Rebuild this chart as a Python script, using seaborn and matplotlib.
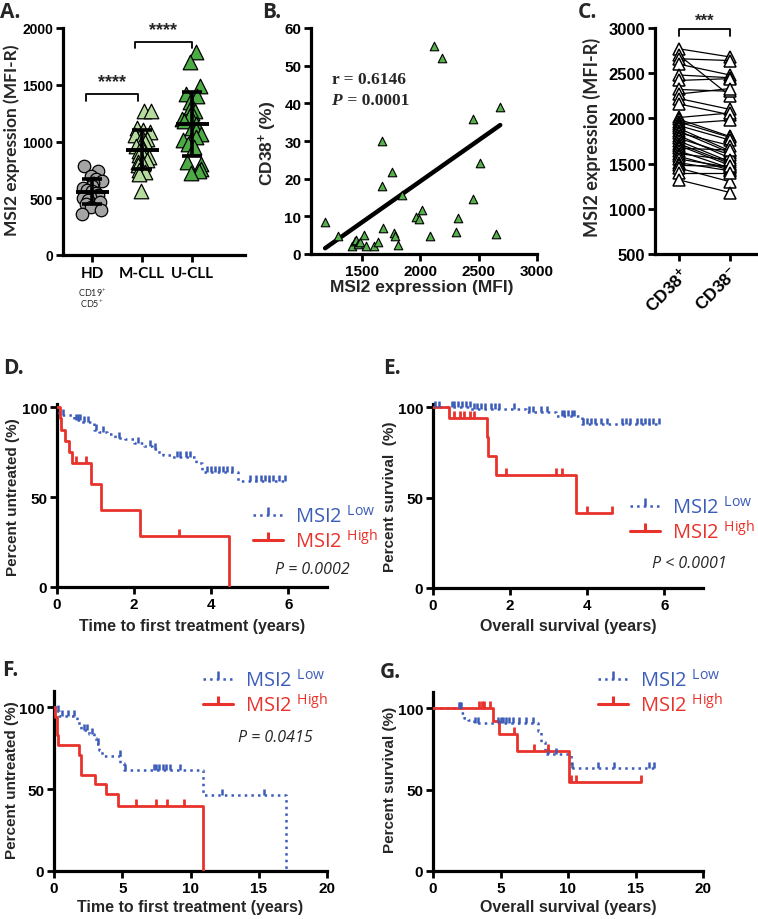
import numpy as np
import pandas as pd
import matplotlib
matplotlib.use("Agg")
import matplotlib.pyplot as plt
import seaborn as sns
from matplotlib.lines import Line2D

# ---------------- data ----------------
groups_A = ["HD", "M-CLL", "U-CLL"]
hd_vals = [780, 740, 700, 670, 650, 630, 610, 590, 575, 560, 545, 530, 515, 500, 485, 470, 450, 420, 400, 360]
mcll_vals = [1270, 1265, 1120, 1100, 1080, 1060, 1040, 1020, 1000, 980, 960, 940, 920, 900, 880, 860,
             840, 820, 800, 790, 770, 750, 730, 710, 560]
ucll_vals = [1790, 1700, 1490, 1420, 1400, 1350, 1300, 1270, 1250, 1230, 1200, 1180, 1150, 1120, 1100,
             1070, 1040, 1010, 980, 950, 820, 800, 760, 740, 720]

b_msi2 = [1185, 1295, 1415, 1440, 1450, 1465, 1485, 1515, 1535, 1605, 1635, 1668, 1670, 1678, 1760, 1778,
          1780, 1812, 1840, 1965, 1985, 2015, 2082, 2120, 2188, 2307, 2322, 2448, 2455, 2515, 2645, 2685]
b_cd38 = [8.5, 4.7, 2.0, 3.4, 3.8, 2.6, 3.2, 5.1, 2.0, 2.0, 3.3, 30.1, 18.1, 6.8, 21.8, 5.5,
          4.8, 2.4, 15.7, 9.9, 9.4, 11.6, 4.9, 55.2, 52.0, 5.8, 9.6, 14.5, 35.9, 24.1, 5.4, 39.0]
# regression line as printed in the figure
b_fit_slope = 0.0218
b_fit_intercept = -24.3

c_conditions = ["CD38+", "CD38-"]
c_pos = [2770, 2700, 2660, 2600, 2480, 2420, 2320, 2270, 2220, 2160, 2010, 1990, 1960, 1940, 1920, 1890,
         1860, 1840, 1810, 1780, 1750, 1720, 1700, 1670, 1640, 1610, 1580, 1550, 1510, 1480, 1450, 1400, 1320]
c_neg = [2680, 2250, 2640, 2480, 2450, 2440, 2300, 2330, 2100, 2040, 2060, 1800, 1790, 1980, 1760, 1640,
         1620, 1700, 1560, 1600, 1520, 1500, 1480, 1650, 1450, 1540, 1430, 1460, 1420, 1470, 1300, 1400, 1180]

# Kaplan-Meier curves: event times, survival after event (%), last follow-up, censor times
D_low_t = [0, 0.05, 0.45, 0.62, 0.95, 1.1, 1.3, 1.5, 1.75, 2.0, 2.25, 2.45, 2.6, 2.75, 2.95, 3.6, 3.75, 4.7]
D_low_s = [100, 95.5, 93, 91.5, 87.5, 86, 85, 83, 82, 80, 78.5, 76.5, 75, 73.5, 72, 69, 64, 59]
D_low_end = 5.95
D_low_c = [0.15, 0.5, 0.55, 0.6, 0.7, 0.8, 1.0, 1.2, 1.6, 2.1, 2.4, 2.55, 3.1, 3.2, 3.35, 3.45, 3.9, 4.0,
           4.1, 4.2, 4.3, 4.4, 4.55, 5.0, 5.15, 5.3, 5.4, 5.5, 5.6, 5.75, 5.9]
D_high_t = [0, 0.08, 0.1, 0.2, 0.3, 0.38, 0.88, 1.15, 2.15, 4.47]
D_high_s = [100, 93.8, 87.5, 81.3, 75, 68.8, 57.3, 43, 28.6, 0]
D_high_end = 4.47
D_high_c = [0.5, 0.75, 3.15]

E_low_t = [0, 0.97, 2.4, 3.2, 3.85]
E_low_s = [100, 98.8, 97.2, 95, 90.5]
E_low_end = 5.9
E_low_c = [0.05, 0.15, 0.5, 0.55, 0.65, 0.75, 0.85, 0.95, 1.05, 1.15, 1.25, 1.35, 1.5, 1.6, 1.7, 2.1, 2.5,
           2.6, 2.8, 2.95, 3.35, 3.4, 3.5, 3.6, 3.65, 3.9, 4.0, 4.1, 4.2, 4.35, 4.5, 4.9, 5.0, 5.1, 5.3,
           5.4, 5.5, 5.6, 5.7, 5.85]
E_high_t = [0, 0.42, 1.4, 1.43, 1.63, 3.7]
E_high_s = [100, 93.8, 83.5, 72.9, 62.5, 41.7]
E_high_end = 4.65
E_high_c = [0.55, 0.7, 0.8, 0.95, 1.05, 1.9, 3.2, 3.35, 4.0, 4.65]

F_low_t = [0, 0.15, 0.4, 1.7, 1.85, 2.0, 2.6, 2.9, 3.1, 3.3, 3.5, 4.85, 5.1, 10.9, 17.0]
F_low_s = [100, 97.5, 95, 92, 89, 86, 84, 81, 77.5, 74, 70, 66, 62, 46.5, 0]
F_low_end = 17.0
F_low_c = [0.3, 0.6, 1.0, 1.5, 2.2, 2.4, 2.8, 3.2, 4.8, 5.2, 7.3, 7.5, 7.7, 8.0, 8.2, 8.5, 9.2, 12.3, 15.4]
F_high_t = [0, 0.08, 0.2, 0.3, 1.8, 1.95, 3.0, 3.8, 4.7, 10.9]
F_high_s = [100, 94, 83, 76.7, 70.8, 58.9, 53, 47.1, 39.8, 0]
F_high_end = 10.9
F_high_c = [6.0, 7.5, 8.3, 9.5]

G_low_t = [0, 2.1, 2.3, 2.6, 3.0, 7.8, 8.0, 8.3, 10.2]
G_low_s = [100, 97, 94, 92.5, 91, 86, 79, 72, 63]
G_low_end = 16.5
G_low_c = [1.95, 2.0, 2.05, 3.1, 3.3, 4.8, 5.0, 5.2, 5.4, 5.6, 5.9, 6.4, 6.9, 7.4, 8.5, 9.1, 10.3, 12.2,
           13.4, 16.0, 16.4]
G_high_t = [0, 4.45, 4.9, 6.2, 10.1]
G_high_s = [100, 92.3, 84, 73.5, 55]
G_high_end = 15.4
G_high_c = [3.4, 3.6, 3.8, 4.2, 6.0, 7.5, 8.5, 10.2, 10.6, 15.4]

# ---------------- style ----------------
sns.set_theme(style="ticks")
plt.rcParams["font.family"] = ["Liberation Sans", "DejaVu Sans"]
plt.rcParams["mathtext.fontset"] = "custom"
plt.rcParams["mathtext.rm"] = "Open Sans"
plt.rcParams["mathtext.it"] = "Open Sans:italic"
plt.rcParams["mathtext.bf"] = "Liberation Sans:bold"

BLUE = "#3b5cb8"
RED = "#e8322b"

W, H = 758, 920
fig = plt.figure(figsize=(W / 100, H / 100), dpi=100)
fig.patch.set_facecolor("white")


def add_ax(l, r, t, b):
    return fig.add_axes([l / W, 1 - b / H, (r - l) / W, (b - t) / H])


def ftext(x, y, s, **kw):
    kw.setdefault("ha", "center")
    kw.setdefault("va", "center")
    return fig.text(x / W, 1 - y / H, s, **kw)


def style(ax, fs=9, family="Liberation Sans"):
    sns.despine(ax=ax)
    ax.set_facecolor("white")
    ax.grid(False)
    for sp in ["left", "bottom"]:
        ax.spines[sp].set_linewidth(2.3)
        ax.spines[sp].set_color("black")
    ax.tick_params(width=2, length=5, labelsize=fs, colors="black", direction="out", pad=2)
    for lab in ax.get_xticklabels() + ax.get_yticklabels():
        lab.set_fontweight("bold")
        lab.set_family(family)
    ax.set_xlabel("")
    ax.set_ylabel("")


def panel_label(x, y, s):
    ftext(x, y, s, ha="left", va="center", fontsize=15, fontweight="bold", family="Open Sans")


# ---------------- Panel A ----------------
axA = add_ax(63, 245, 29, 256)
dfA = pd.DataFrame({
    "group": ["HD"] * len(hd_vals) + ["M-CLL"] * len(mcll_vals) + ["U-CLL"] * len(ucll_vals),
    "value": hd_vals + mcll_vals + ucll_vals,
})
np.random.seed(7)
specs = {"HD": ("o", "#a4a4a4", 9), "M-CLL": ("^", "#b5dc9d", 10.5), "U-CLL": ("^", "#4dab45", 10.5)}
for g in groups_A:
    mk, fc, sz = specs[g]
    sns.stripplot(data=dfA[dfA["group"] == g], x="group", y="value", order=groups_A, ax=axA,
                  marker=mk, color=fc, size=sz, linewidth=0.9, edgecolor="black", jitter=0.2, zorder=2)
stats = dfA.groupby("group")["value"].agg(["mean", "std"]).reindex(groups_A)
xs = np.arange(len(groups_A))
axA.errorbar(xs, stats["mean"], yerr=stats["std"], fmt="none", ecolor="black",
             elinewidth=2.6, capsize=7, capthick=2.6, zorder=5)
axA.hlines(stats["mean"], xs - 0.33, xs + 0.33, color="black", lw=2.8, zorder=5)
axA.set_xlim(-0.58, 3.06)
axA.set_ylim(0, 2000)
axA.set_yticks([0, 500, 1000, 1500, 2000])
axA.set_xticks(xs)
axA.set_xticklabels(groups_A)
style(axA, fs=10)
for lab in axA.get_xticklabels():
    lab.set_family("Lato")
    lab.set_fontsize(11)
axA.tick_params(axis="x", pad=3)


def bracket(ax, x0, x1, y, h, text, fs, ty):
    ax.plot([x0, x0, x1, x1], [y - h, y, y, y - h], color="black", lw=1.3, clip_on=False)
    ax.text((x0 + x1) / 2, ty, text, ha="center", va="center", fontsize=fs,
            fontweight="bold", clip_on=False)


bracket(axA, -0.12, 0.91, 1420, 60, "****", 13, 1530)
bracket(axA, 0.85, 2.0, 1880, 60, "****", 13, 1990)
ftext(92, 293, "CD19$^{+}$", fontsize=6.5, family="Lato")
ftext(92, 304, "CD5$^{+}$", fontsize=6.5, family="Lato")
ftext(12, 140, "MSI2 expression (MFI-R)", rotation=90, fontsize=12.5, fontweight="bold", family="Lato")
panel_label(0, 12, "A.")

# ---------------- Panel B ----------------
axB = add_ax(311, 537, 29, 255)
sns.scatterplot(x=b_msi2, y=b_cd38, ax=axB, marker="^", s=38, color="#56b04c",
                edgecolor="black", linewidth=0.8, zorder=3)
fit_x = np.array([min(b_msi2), max(b_msi2)])
sns.lineplot(x=fit_x, y=b_fit_intercept + b_fit_slope * fit_x, ax=axB, color="black", lw=3.2, zorder=2)
axB.set_xlim(1064, 3000)
axB.set_ylim(0, 60)
axB.set_xticks([1500, 2000, 2500, 3000])
axB.set_yticks([0, 10, 20, 30, 40, 50, 60])
style(axB, fs=11)
ftext(268, 143, "CD38$^{\\mathbf{+}}$ (%)", rotation=90, fontsize=12.5, fontweight="bold")
ftext(422, 288, "MSI2 expression (MFI)", fontsize=12.5, fontweight="bold")
ftext(332, 80, "r = 0.6146", ha="left", fontsize=12.5, fontweight="bold", family="Liberation Serif")
ftext(331, 101, "P", ha="left", fontsize=12.5, fontweight="bold", style="italic", family="Liberation Serif")
ftext(343, 101, " = 0.0001", ha="left", fontsize=12.5, fontweight="bold", family="Liberation Serif")
panel_label(262, 12, "B.")

# ---------------- Panel C ----------------
axC = add_ax(655, 757, 29, 255)
dfC = pd.DataFrame({
    "pair": list(range(len(c_pos))) * 2,
    "cond": [c_conditions[0]] * len(c_pos) + [c_conditions[1]] * len(c_neg),
    "value": c_pos + c_neg,
})
sns.lineplot(data=dfC, x="cond", y="value", units="pair", estimator=None, ax=axC, color="black",
             lw=0.9, marker="^", markersize=8, markerfacecolor="white", markeredgecolor="black",
             markeredgewidth=1.1, sort=False)
axC.set_xlim(-0.47, 1.53)
axC.set_ylim(500, 3000)
axC.set_yticks([500, 1000, 1500, 2000, 2500, 3000])
axC.set_xticks([0, 1])
axC.set_xticklabels(["CD38$^{\\mathbf{+}}$", "CD38$^{\\mathbf{-}}$"], rotation=45, ha="right",
                    rotation_mode="anchor")
style(axC, fs=12)
for lab in axC.get_xticklabels():
    lab.set_fontsize(12.5)
bracket(axC, 0, 1, 2985, 70, "***", 12, 3090)
ftext(592, 137, "MSI2 expression (MFI-R)", rotation=90, fontsize=13, fontweight="bold", family="Lato")
panel_label(578, 12, "C.")


# ---------------- KM panels ----------------
def km(ax, t, s, end, cens, color, ls, lw, ms):
    tt = list(t) + [end]
    ss = list(s) + [s[-1]]
    sns.lineplot(x=tt, y=ss, ax=ax, color=color, linestyle=ls, lw=lw, drawstyle="steps-post",
                 sort=False, estimator=None, zorder=3)
    idx = np.searchsorted(np.array(t), np.array(cens), side="right") - 1
    cs = np.array(s)[idx]
    ax.plot(cens, cs, linestyle="none", marker=2, ms=ms, mew=lw, color=color, zorder=4, clip_on=False)


def km_legend(x, y):
    h_low = Line2D([], [], color=BLUE, ls=":", lw=1.8, marker=2, ms=6, mew=1.8)
    h_high = Line2D([], [], color=RED, ls="-", lw=2.2, marker=2, ms=6, mew=2.2)
    fig.legend([h_low, h_high], ["MSI2 $^{\\mathrm{Low}}$", "MSI2 $^{\\mathrm{High}}$"],
               loc="upper left", bbox_to_anchor=(x / W, 1 - y / H), frameon=False,
               prop={"family": "Open Sans", "size": 14.5}, labelcolor="linecolor", numpoints=1,
               handlelength=1.5, handletextpad=0.6, labelspacing=0.12, borderpad=0, borderaxespad=0)


def km_axes(ax, xmax, xticks, ylim_top):
    ax.set_xlim(0, xmax)
    ax.set_ylim(0, ylim_top)
    ax.set_xticks(xticks)
    ax.set_yticks([0, 50, 100])
    style(ax, fs=11)


axD = add_ax(57, 327, 405, 588)
km(axD, D_low_t, D_low_s, D_low_end, D_low_c, BLUE, ":", 1.8, 4)
km(axD, D_high_t, D_high_s, D_high_end, D_high_c, RED, "-", 2.0, 5)
km_axes(axD, 7, [0, 2, 4, 6], 101.7)
ftext(13, 497, "Percent untreated (%)", rotation=90, fontsize=11, fontweight="bold")
ftext(192, 627, "Time to first treatment (years)", fontsize=11.5, fontweight="bold")
ftext(312, 570, "P = 0.0002", fontsize=11.5, style="italic", family="Open Sans")
km_legend(253, 506)
panel_label(3, 368, "D.")

axE = add_ax(433, 703, 405, 589)
km(axE, E_low_t, E_low_s, E_low_end, E_low_c, BLUE, ":", 1.8, 4)
km(axE, E_high_t, E_high_s, E_high_end, E_high_c, RED, "-", 2.0, 5)
km_axes(axE, 7, [0, 2, 4, 6], 101.7)
ftext(390, 497, "Percent survival  (%)", rotation=90, fontsize=11, fontweight="bold")
ftext(568, 627, "Overall survival (years)", fontsize=11.5, fontweight="bold")
ftext(689, 564, "P < 0.0001", fontsize=11.5, style="italic", family="Open Sans")
km_legend(630, 497)
panel_label(383, 368, "E.")

axF = add_ax(54, 327, 692, 872)
km(axF, F_low_t, F_low_s, F_low_end, F_low_c, BLUE, ":", 1.8, 4)
km(axF, F_high_t, F_high_s, F_high_end, F_high_c, RED, "-", 2.0, 5)
km_axes(axF, 20, [0, 5, 10, 15, 20], 110)
ftext(12, 780, "Percent untreated (%)", rotation=90, fontsize=11, fontweight="bold")
ftext(190, 908, "Time to first treatment (years)", fontsize=11.5, fontweight="bold")
ftext(275, 738, "P = 0.0415", fontsize=11.5, style="italic", family="Open Sans")
km_legend(203, 670)
panel_label(2, 671, "F.")

axG = add_ax(433, 703, 693, 872)
km(axG, G_low_t, G_low_s, G_low_end, G_low_c, BLUE, ":", 1.8, 4)
km(axG, G_high_t, G_high_s, G_high_end, G_high_c, RED, "-", 2.0, 5)
km_axes(axG, 20, [0, 5, 10, 15, 20], 110)
ftext(390, 780, "Percent survival (%)", rotation=90, fontsize=11, fontweight="bold")
ftext(568, 908, "Overall survival (years)", fontsize=11.5, fontweight="bold")
km_legend(598, 670)
panel_label(380, 673, "G.")

fig.savefig("out.png", dpi=100, facecolor="white")
